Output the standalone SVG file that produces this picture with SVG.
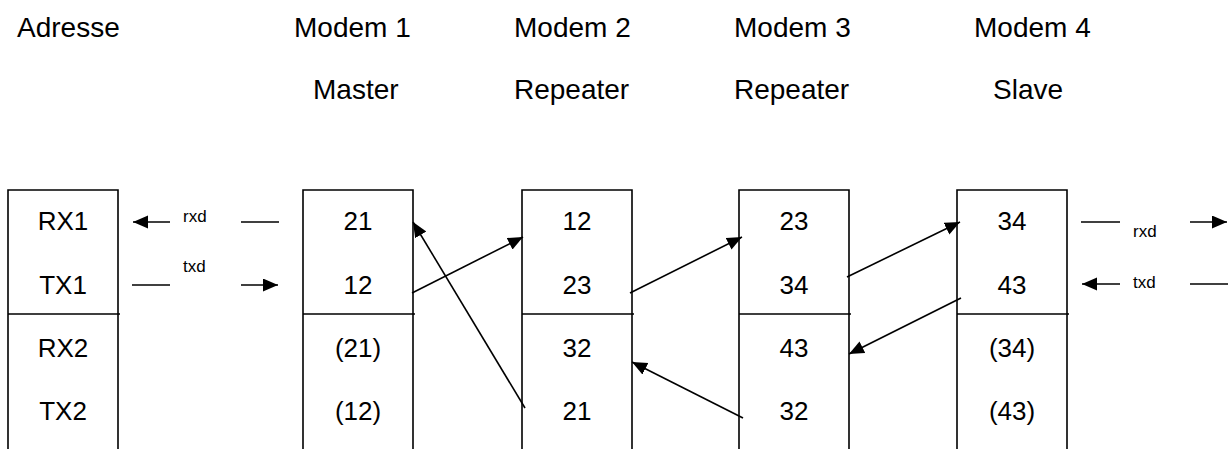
<svg xmlns="http://www.w3.org/2000/svg" width="1229" height="449" viewBox="0 0 1229 449">
<style>
.hdr{font-family:"Liberation Sans",Arial,sans-serif;font-size:28px;fill:#000}
.cell{font-family:"Liberation Sans",Arial,sans-serif;font-size:26px;fill:#000;text-anchor:middle}
.sm{font-family:"Liberation Sans",Arial,sans-serif;font-size:17px;fill:#000}
.box{fill:none;stroke:#000;stroke-width:1.6}
.con{fill:none;stroke:#000;stroke-width:1.6}
</style>
<defs>
<marker id="ah" markerUnits="userSpaceOnUse" markerWidth="16" markerHeight="14" refX="15" refY="6.5" orient="auto">
<path d="M0,0 L15,6.5 L0,13 z" fill="#000"/>
</marker>
</defs>
<g id="headers">
<text class="hdr" x="17" y="37">Adresse</text>
<text class="hdr" x="294" y="37">Modem 1</text>
<text class="hdr" x="313" y="99">Master</text>
<text class="hdr" x="514" y="37">Modem 2</text>
<text class="hdr" x="514" y="99">Repeater</text>
<text class="hdr" x="734" y="37">Modem 3</text>
<text class="hdr" x="734" y="99">Repeater</text>
<text class="hdr" x="974" y="37">Modem 4</text>
<text class="hdr" x="993" y="99">Slave</text>
</g>
<g id="adresse">
<path class="box" d="M8,452 V190 H118 V452 M8,314 H120"/>
<text class="cell" x="63" y="230">RX1</text>
<text class="cell" x="63" y="294">TX1</text>
<text class="cell" x="63" y="357">RX2</text>
<text class="cell" x="63" y="420">TX2</text>
</g>
<g id="modem1">
<path class="box" d="M303,452 V190 H413 V452 M303,314 H415"/>
<text class="cell" x="358" y="230">21</text>
<text class="cell" x="358" y="294">12</text>
<text class="cell" x="358" y="357">(21)</text>
<text class="cell" x="358" y="420">(12)</text>
</g>
<g id="modem2">
<path class="box" d="M522,452 V190 H632 V452 M522,314 H634"/>
<text class="cell" x="577" y="230">12</text>
<text class="cell" x="577" y="294">23</text>
<text class="cell" x="577" y="357">32</text>
<text class="cell" x="577" y="420">21</text>
</g>
<g id="modem3">
<path class="box" d="M739,452 V190 H849 V452 M739,314 H851"/>
<text class="cell" x="794" y="230">23</text>
<text class="cell" x="794" y="294">34</text>
<text class="cell" x="794" y="357">43</text>
<text class="cell" x="794" y="420">32</text>
</g>
<g id="modem4">
<path class="box" d="M957,452 V190 H1067 V452 M957,314 H1069"/>
<text class="cell" x="1012" y="230">34</text>
<text class="cell" x="1012" y="294">43</text>
<text class="cell" x="1012" y="357">(34)</text>
<text class="cell" x="1012" y="420">(43)</text>
</g>
<g id="connectors">
<line class="con" x1="170" y1="222" x2="133" y2="222" marker-end="url(#ah)"/>
<line class="con" x1="241" y1="222" x2="279" y2="222"/>
<text class="sm" x="183" y="222">rxd</text>
<line class="con" x1="132" y1="285" x2="170" y2="285"/>
<line class="con" x1="241" y1="285" x2="278" y2="285" marker-end="url(#ah)"/>
<text class="sm" x="183" y="272">txd</text>
<line class="con" x1="525" y1="408" x2="413" y2="222" marker-end="url(#ah)"/>
<line class="con" x1="412" y1="293" x2="523" y2="237" marker-end="url(#ah)"/>
<line class="con" x1="630" y1="293" x2="742" y2="237" marker-end="url(#ah)"/>
<line class="con" x1="847" y1="277" x2="960" y2="222" marker-end="url(#ah)"/>
<line class="con" x1="961" y1="298" x2="849" y2="354" marker-end="url(#ah)"/>
<line class="con" x1="743" y1="418" x2="632" y2="362" marker-end="url(#ah)"/>
<line class="con" x1="1081" y1="222" x2="1120" y2="222"/>
<line class="con" x1="1190" y1="222" x2="1227" y2="222" marker-end="url(#ah)"/>
<text class="sm" x="1133" y="237">rxd</text>
<line class="con" x1="1120" y1="284" x2="1082" y2="284" marker-end="url(#ah)"/>
<line class="con" x1="1190" y1="284" x2="1228" y2="284"/>
<text class="sm" x="1133" y="288">txd</text>
</g>
</svg>
